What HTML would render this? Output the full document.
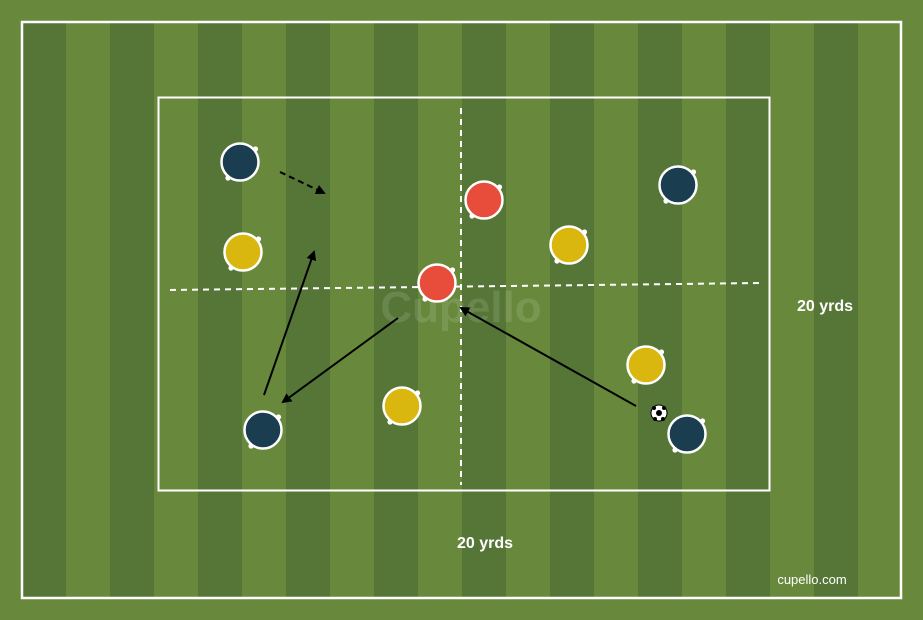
<!DOCTYPE html>
<html><head><meta charset="utf-8"><style>html,body{margin:0;padding:0;background:#68883c}svg{display:block}</style></head>
<body>
<svg width="923" height="620" viewBox="0 0 923 620" xmlns="http://www.w3.org/2000/svg" font-family="Liberation Sans, sans-serif">
<defs>
<marker id="ah" markerWidth="10" markerHeight="10" refX="8" refY="5" orient="auto" markerUnits="userSpaceOnUse"><path d="M0,0 L10,5 L0,10 z" fill="#000"/></marker>
<g id="pl"><circle r="18.5" stroke="#fff" stroke-width="2.5"/><circle cx="15.5" cy="-13" r="2.6" fill="#fff" stroke="none"/><circle cx="-12" cy="16" r="2.6" fill="#fff" stroke="none"/></g>
</defs>
<rect width="923" height="620" fill="#68883c"/>
<g fill="#557636">
<rect x="22" y="22" width="44" height="577"/><rect x="110" y="22" width="44" height="577"/><rect x="198" y="22" width="44" height="577"/><rect x="286" y="22" width="44" height="577"/><rect x="374" y="22" width="44" height="577"/><rect x="462" y="22" width="44" height="577"/><rect x="550" y="22" width="44" height="577"/><rect x="638" y="22" width="44" height="577"/><rect x="726" y="22" width="44" height="577"/><rect x="814" y="22" width="44" height="577"/>
</g>
<rect x="22" y="22" width="879" height="576" fill="none" stroke="#fff" stroke-width="2.5"/>
<rect x="158.5" y="97.5" width="611" height="393" fill="none" stroke="#fff" stroke-width="2"/>
<text x="461" y="322" text-anchor="middle" font-size="44" font-weight="bold" fill="#fff" fill-opacity="0.12">Cupello</text>
<line x1="461" y1="108" x2="461" y2="485" stroke="#fff" stroke-width="2" stroke-dasharray="6,5"/>
<line x1="170" y1="290" x2="762" y2="283" stroke="#fff" stroke-width="2" stroke-dasharray="6,5"/>
<g stroke="#000" stroke-width="2" fill="none">
<line x1="280" y1="172" x2="324" y2="193" stroke-dasharray="6,4" marker-end="url(#ah)"/>
<line x1="264" y1="395" x2="314" y2="252" marker-end="url(#ah)"/>
<line x1="398" y1="318" x2="283" y2="402" marker-end="url(#ah)"/>
<line x1="636" y1="406" x2="461" y2="308" marker-end="url(#ah)"/>
</g>
<g fill="#1b3d50"><use href="#pl" x="240" y="162"/><use href="#pl" x="678" y="185"/><use href="#pl" x="263" y="430"/><use href="#pl" x="687" y="434"/></g>
<g fill="#d9b70f"><use href="#pl" x="243" y="252"/><use href="#pl" x="569" y="245"/><use href="#pl" x="646" y="365"/><use href="#pl" x="402" y="406"/></g>
<g fill="#e84c3a"><use href="#pl" x="484" y="200"/><use href="#pl" x="437" y="283"/></g>
<circle cx="659" cy="413" r="8" fill="#fff" stroke="#000" stroke-width="1"/>
<circle cx="659" cy="413" r="3" fill="#000"/>
<circle cx="654" cy="408" r="2" fill="#000"/><circle cx="664" cy="408" r="2" fill="#000"/><circle cx="655" cy="419" r="2" fill="#000"/><circle cx="663" cy="419" r="2" fill="#000"/>
<text x="825" y="311" text-anchor="middle" font-size="16" font-weight="bold" fill="#fff">20 yrds</text>
<text x="485" y="548" text-anchor="middle" font-size="16" font-weight="bold" fill="#fff">20 yrds</text>
<text x="812" y="584" text-anchor="middle" font-size="13" fill="#fff">cupello.com</text>
</svg>
</body></html>
